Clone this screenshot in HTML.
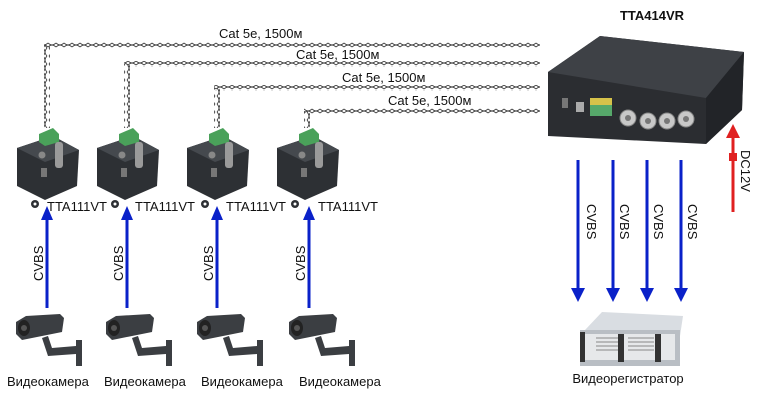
<!DOCTYPE html>
<html><head><meta charset="utf-8"><style>
body{margin:0;background:#fff;}
svg{display:block;font-family:"Liberation Sans",Arial,sans-serif;}
</style></head><body>
<svg width="772" height="404" viewBox="0 0 772 404" xmlns="http://www.w3.org/2000/svg">
<defs>
<pattern id="th" width="8" height="6" patternUnits="userSpaceOnUse">
<path d="M0 1 Q4 5 8 1 M0 5 Q4 1 8 5" stroke="#444" stroke-width="0.9" fill="none"/>
</pattern>
<pattern id="tv" width="6" height="8" patternUnits="userSpaceOnUse">
<path d="M1 0 Q5 4 1 8 M5 0 Q1 4 5 8" stroke="#444" stroke-width="0.9" fill="none"/>
</pattern>
<g id="tx">
<polygon points="-30,148 6,136 32,150 30,186 -2,200 -30,186" fill="#2d3034"/>
<polygon points="-30,148 6,136 32,150 -2,162" fill="#45494e"/>
<circle cx="-12" cy="204" r="4" fill="#2d3034"/><circle cx="-12" cy="204" r="1.5" fill="#fff"/>
<polygon points="-8,134 6,128 12,134 12,142 -2,146 -8,142" fill="#4aa15a"/>
<rect x="8" y="142" width="8" height="26" rx="3" fill="#9a9a9a"/>
<circle cx="-5" cy="155" r="3.5" fill="#888"/>
<rect x="-6" y="168" width="6" height="9" fill="#777"/>
</g>
<g id="cam">
<polygon points="16,322 26,316 60,314 64,318 62,332 22,340 16,334" fill="#3b3e42"/>
<ellipse cx="24" cy="328" rx="6" ry="8" fill="#222"/>
<circle cx="24" cy="328" r="3" fill="#555"/>
<polygon points="42,338 48,336 52,348 76,346 76,354 48,356" fill="#3b3e42"/>
<rect x="76" y="340" width="6" height="26" fill="#3b3e42"/>
</g>
<g id="ua"><line x1="0" y1="308" x2="0" y2="218" stroke="#0a21c9" stroke-width="3"/><polygon points="-6,220 6,220 0,206" fill="#0a21c9"/></g>
<g id="da"><line x1="0" y1="160" x2="0" y2="290" stroke="#0a21c9" stroke-width="3"/><polygon points="-7,288 7,288 0,302" fill="#0a21c9"/></g>
</defs>
<!-- cables -->
<rect x="44" y="42" width="496" height="6" fill="url(#th)"/>
<rect x="44" y="45" width="6" height="83" fill="url(#tv)"/>
<rect x="124" y="61" width="416" height="6" fill="url(#th)"/>
<rect x="124" y="64" width="6" height="64" fill="url(#tv)"/>
<rect x="214" y="85" width="326" height="6" fill="url(#th)"/>
<rect x="214" y="88" width="6" height="40" fill="url(#tv)"/>
<rect x="304" y="108" width="236" height="6" fill="url(#th)"/>
<rect x="304" y="111" width="6" height="17" fill="url(#tv)"/>
<g font-size="13" fill="#111">
<text x="219" y="38">Cat 5e, 1500м</text>
<text x="296" y="59">Cat 5e, 1500м</text>
<text x="342" y="82">Cat 5e, 1500м</text>
<text x="388" y="105">Cat 5e, 1500м</text>
</g>
<use href="#tx" x="47"/><use href="#tx" x="127"/><use href="#tx" x="217"/><use href="#tx" x="307"/>
<g font-size="13" fill="#111">
<text x="47" y="211">TTA111VT</text>
<text x="135" y="211">TTA111VT</text>
<text x="226" y="211">TTA111VT</text>
<text x="318" y="211">TTA111VT</text>
</g>
<use href="#ua" x="47"/><use href="#ua" x="127"/><use href="#ua" x="217"/><use href="#ua" x="309"/>
<g font-size="13" fill="#111">
<text transform="translate(43,281) rotate(-90)">CVBS</text>
<text transform="translate(123,281) rotate(-90)">CVBS</text>
<text transform="translate(213,281) rotate(-90)">CVBS</text>
<text transform="translate(305,281) rotate(-90)">CVBS</text>
</g>
<use href="#cam" x="0"/><use href="#cam" x="90"/><use href="#cam" x="181"/><use href="#cam" x="273"/>
<g font-size="13" fill="#111">
<text x="7" y="386">Видеокамера</text>
<text x="104" y="386">Видеокамера</text>
<text x="201" y="386">Видеокамера</text>
<text x="299" y="386">Видеокамера</text>
</g>
<!-- receiver -->
<text x="652" y="20" font-size="13" font-weight="bold" text-anchor="middle" fill="#111">TTA414VR</text>
<polygon points="548,72 600,36 744,52 742,110 706,144 548,136" fill="#2b2d31"/>
<polygon points="548,72 600,36 744,52 706,98" fill="#3e4146"/>
<polygon points="706,98 744,52 742,110 706,144" fill="#222428"/>
<rect x="562" y="98" width="6" height="10" fill="#777"/>
<rect x="576" y="102" width="8" height="10" fill="#aaa"/>
<rect x="590" y="98" width="22" height="18" fill="#56a86a"/>
<rect x="590" y="98" width="22" height="7" fill="#d6c24a"/>
<g fill="#c8c8c8" stroke="#888"><circle cx="628" cy="118" r="8"/><circle cx="648" cy="121" r="8"/><circle cx="667" cy="121" r="8"/><circle cx="686" cy="119" r="8"/></g>
<g fill="#777"><circle cx="628" cy="118" r="3"/><circle cx="648" cy="121" r="3"/><circle cx="667" cy="121" r="3"/><circle cx="686" cy="119" r="3"/></g>
<use href="#da" x="578"/><use href="#da" x="613"/><use href="#da" x="647"/><use href="#da" x="681"/>
<g font-size="13" fill="#111">
<text transform="translate(587,204) rotate(90)">CVBS</text>
<text transform="translate(620,204) rotate(90)">CVBS</text>
<text transform="translate(654,204) rotate(90)">CVBS</text>
<text transform="translate(688,204) rotate(90)">CVBS</text>
</g>
<line x1="733" y1="212" x2="733" y2="136" stroke="#e02020" stroke-width="3"/>
<polygon points="726,138 740,138 733,124" fill="#e02020"/>
<rect x="729" y="153" width="8" height="8" fill="#e02020"/>
<text transform="translate(741,150) rotate(90)" font-size="13" fill="#111">DC12V</text>
<!-- server -->
<polygon points="585,330 602,312 683,316 680,336" fill="#d9dde2"/>
<rect x="580" y="330" width="100" height="36" fill="#b9bec4"/>
<rect x="585" y="334" width="90" height="26" fill="#e6e8ea"/>
<g stroke="#888" stroke-width="1"><line x1="596" y1="338" x2="618" y2="338"/><line x1="596" y1="342" x2="618" y2="342"/><line x1="596" y1="346" x2="618" y2="346"/><line x1="596" y1="350" x2="618" y2="350"/><line x1="628" y1="338" x2="654" y2="338"/><line x1="628" y1="342" x2="654" y2="342"/><line x1="628" y1="346" x2="654" y2="346"/><line x1="628" y1="350" x2="654" y2="350"/></g>
<rect x="580" y="332" width="5" height="30" fill="#333"/><rect x="618" y="334" width="6" height="28" fill="#333"/><rect x="655" y="334" width="6" height="28" fill="#333"/>
<text x="628" y="383" font-size="13" text-anchor="middle" fill="#111">Видеорегистратор</text>
</svg>
</body></html>
